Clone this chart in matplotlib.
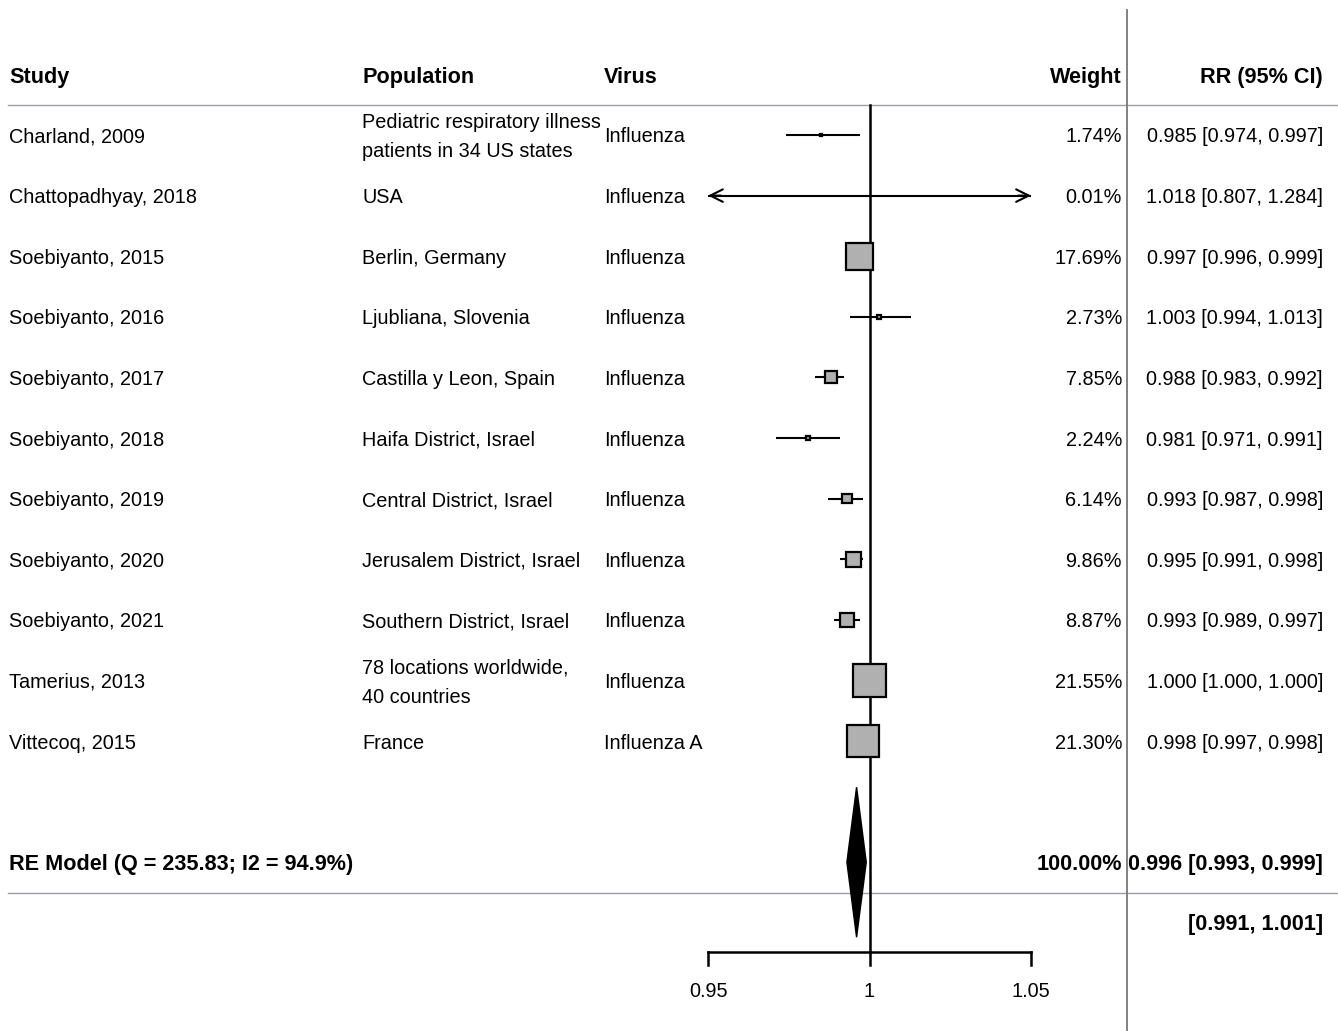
import numpy as np
import matplotlib
matplotlib.use("Agg")
import matplotlib.pyplot as plt
from matplotlib.patches import Rectangle, Polygon
from matplotlib.transforms import blended_transform_factory

plt.rcParams['font.family'] = ['Liberation Sans', 'DejaVu Sans']

studies = ["Charland, 2009", "Chattopadhyay, 2018", "Soebiyanto, 2015", "Soebiyanto, 2016",
           "Soebiyanto, 2017", "Soebiyanto, 2018", "Soebiyanto, 2019", "Soebiyanto, 2020",
           "Soebiyanto, 2021", "Tamerius, 2013", "Vittecoq, 2015"]
populations = ["Pediatric respiratory illness\npatients in 34 US states", "USA", "Berlin, Germany",
               "Ljubliana, Slovenia", "Castilla y Leon, Spain", "Haifa District, Israel",
               "Central District, Israel", "Jerusalem District, Israel", "Southern District, Israel",
               "78 locations worldwide,\n40 countries", "France"]
viruses = ["Influenza"] * 10 + ["Influenza A"]
weights = [1.74, 0.01, 17.69, 2.73, 7.85, 2.24, 6.14, 9.86, 8.87, 21.55, 21.30]
rr = [0.985, 1.018, 0.997, 1.003, 0.988, 0.981, 0.993, 0.995, 0.993, 1.000, 0.998]
lo = [0.974, 0.807, 0.996, 0.994, 0.983, 0.971, 0.987, 0.991, 0.989, 1.000, 0.997]
hi = [0.997, 1.284, 0.999, 1.013, 0.992, 0.991, 0.998, 0.998, 0.997, 1.000, 0.998]
re_est, re_lo, re_hi = 0.996, 0.993, 0.999
pi_lo, pi_hi = 0.991, 1.001
re_label = "RE Model (Q = 235.83; I2 = 94.9%)"
ticks = [0.95, 1.0, 1.05]
tick_labels = ["0.95", "1", "1.05"]

W, H = 1338, 1031
fig = plt.figure(figsize=(W / 100, H / 100), dpi=100)
ax = fig.add_axes([0, 0, 1, 1])
# pixel mapping: 0.95 -> 708 px, 1.05 -> 1031 px
ppu = (1031 - 708) / 0.1
x0 = 0.95 - 708 / ppu
x1 = 0.95 + (W - 708) / ppu
ax.set_xlim(x0, x1)
row_h = 60.6
y_top = -135 / row_h
y_bot = (H - 135) / row_h
ax.set_ylim(y_bot, y_top)
ax.axis('off')

tf = blended_transform_factory(fig.transFigure, ax.transData)
fx = lambda px: px / W
toff = 2 / row_h  # small text offset so glyphs sit like the reference

n = len(studies)
rows = np.arange(n)
re_row = n + 1
pi_row = n + 2
axis_row = (952 - 135) / row_h
hdr_row = -1

fs = 14.3
fsb = 15.6
# header
hdr = dict(fontsize=fsb, fontweight='bold', va='center', transform=tf)
hy_ = hdr_row + 3 / row_h
ax.text(fx(9), hy_, "Study", ha='left', **hdr)
ax.text(fx(362), hy_, "Population", ha='left', **hdr)
ax.text(fx(604), hy_, "Virus", ha='left', **hdr)
ax.text(fx(1122), hy_, "Weight", ha='right', **hdr)
ax.text(fx(1323), hy_, "RR (95% CI)", ha='right', **hdr)

lc = '#9d9bb2'
ax.plot([fx(8), 1], [-0.5, -0.5], color=lc, lw=1, transform=tf)
ax.plot([fx(8), 1], [re_row + 0.5, re_row + 0.5], color=lc, lw=1, transform=tf)
ax.plot([fx(1127), fx(1127)], [(10 - 135) / row_h, y_bot], color='#777777', lw=1.3, transform=tf)

# reference line
ax.plot([1.0, 1.0], [-0.5, axis_row], color='black', lw=1.8)

# rows
for i in range(n):
    y = rows[i]
    reg = dict(fontsize=fs, va='center', transform=tf)
    ax.text(fx(9), y + toff, studies[i], ha='left', **reg)
    ax.text(fx(362), y + toff, populations[i], ha='left', linespacing=1.68, **reg)
    ax.text(fx(604), y + toff, viruses[i], ha='left', **reg)
    ax.text(fx(1122), y + toff, f"{weights[i]:.2f}%", ha='right', **reg)
    ax.text(fx(1323), y + toff, f"{rr[i]:.3f} [{lo[i]:.3f}, {hi[i]:.3f}]", ha='right', **reg)

    l = max(lo[i], ticks[0])
    h = min(hi[i], ticks[-1])
    ax.plot([l, h], [y, y], color='black', lw=1.5, solid_capstyle='butt', zorder=2)
    if lo[i] < ticks[0]:
        ax.annotate("", xy=(l, y), xytext=(l + 0.004, y),
                    arrowprops=dict(arrowstyle='->,head_length=0.9,head_width=0.45', lw=1.5, color='black', shrinkA=0, shrinkB=0))
    if hi[i] > ticks[-1]:
        ax.annotate("", xy=(h, y), xytext=(h - 0.004, y),
                    arrowprops=dict(arrowstyle='->,head_length=0.9,head_width=0.45', lw=1.5, color='black', shrinkA=0, shrinkB=0))
    side_px = weights[i] * 1.53
    if side_px >= 1.0:
        wx = side_px / ppu
        hy = side_px / row_h
        ax.add_patch(Rectangle((rr[i] - wx / 2, y - hy / 2), wx, hy, facecolor='#b0b0b0',
                               edgecolor='black', lw=1.6, zorder=3))

# RE model
ax.text(fx(9), re_row + toff, re_label, ha='left', va='center', fontsize=fsb, fontweight='bold', transform=tf)
ax.text(fx(1122), re_row + toff, "100.00%", ha='right', va='center', fontsize=fsb, fontweight='bold', transform=tf)
ax.text(fx(1323), re_row + toff, f"{re_est:.3f} [{re_lo:.3f}, {re_hi:.3f}]", ha='right', va='center',
        fontsize=fsb, fontweight='bold', transform=tf)
ax.text(fx(1323), pi_row + toff, f"[{pi_lo:.3f}, {pi_hi:.3f}]", ha='right', va='center',
        fontsize=fsb, fontweight='bold', transform=tf)
dh = 75 / row_h
ax.add_patch(Polygon([(re_est, re_row - dh), (re_hi, re_row), (re_est, re_row + dh), (re_lo, re_row)],
                     closed=True, facecolor='black', edgecolor='black', lw=1, zorder=3))

# x axis
tick_len = 13 / row_h
ax.plot([ticks[0], ticks[-1]], [axis_row, axis_row], color='black', lw=1.8)
for t, lab in zip(ticks, tick_labels):
    ax.plot([t, t], [axis_row, axis_row + tick_len], color='black', lw=1.8)
    ax.text(t, (991 - 135) / row_h, lab, ha='center', va='center', fontsize=fs)

fig.savefig("out.png", dpi=100)
